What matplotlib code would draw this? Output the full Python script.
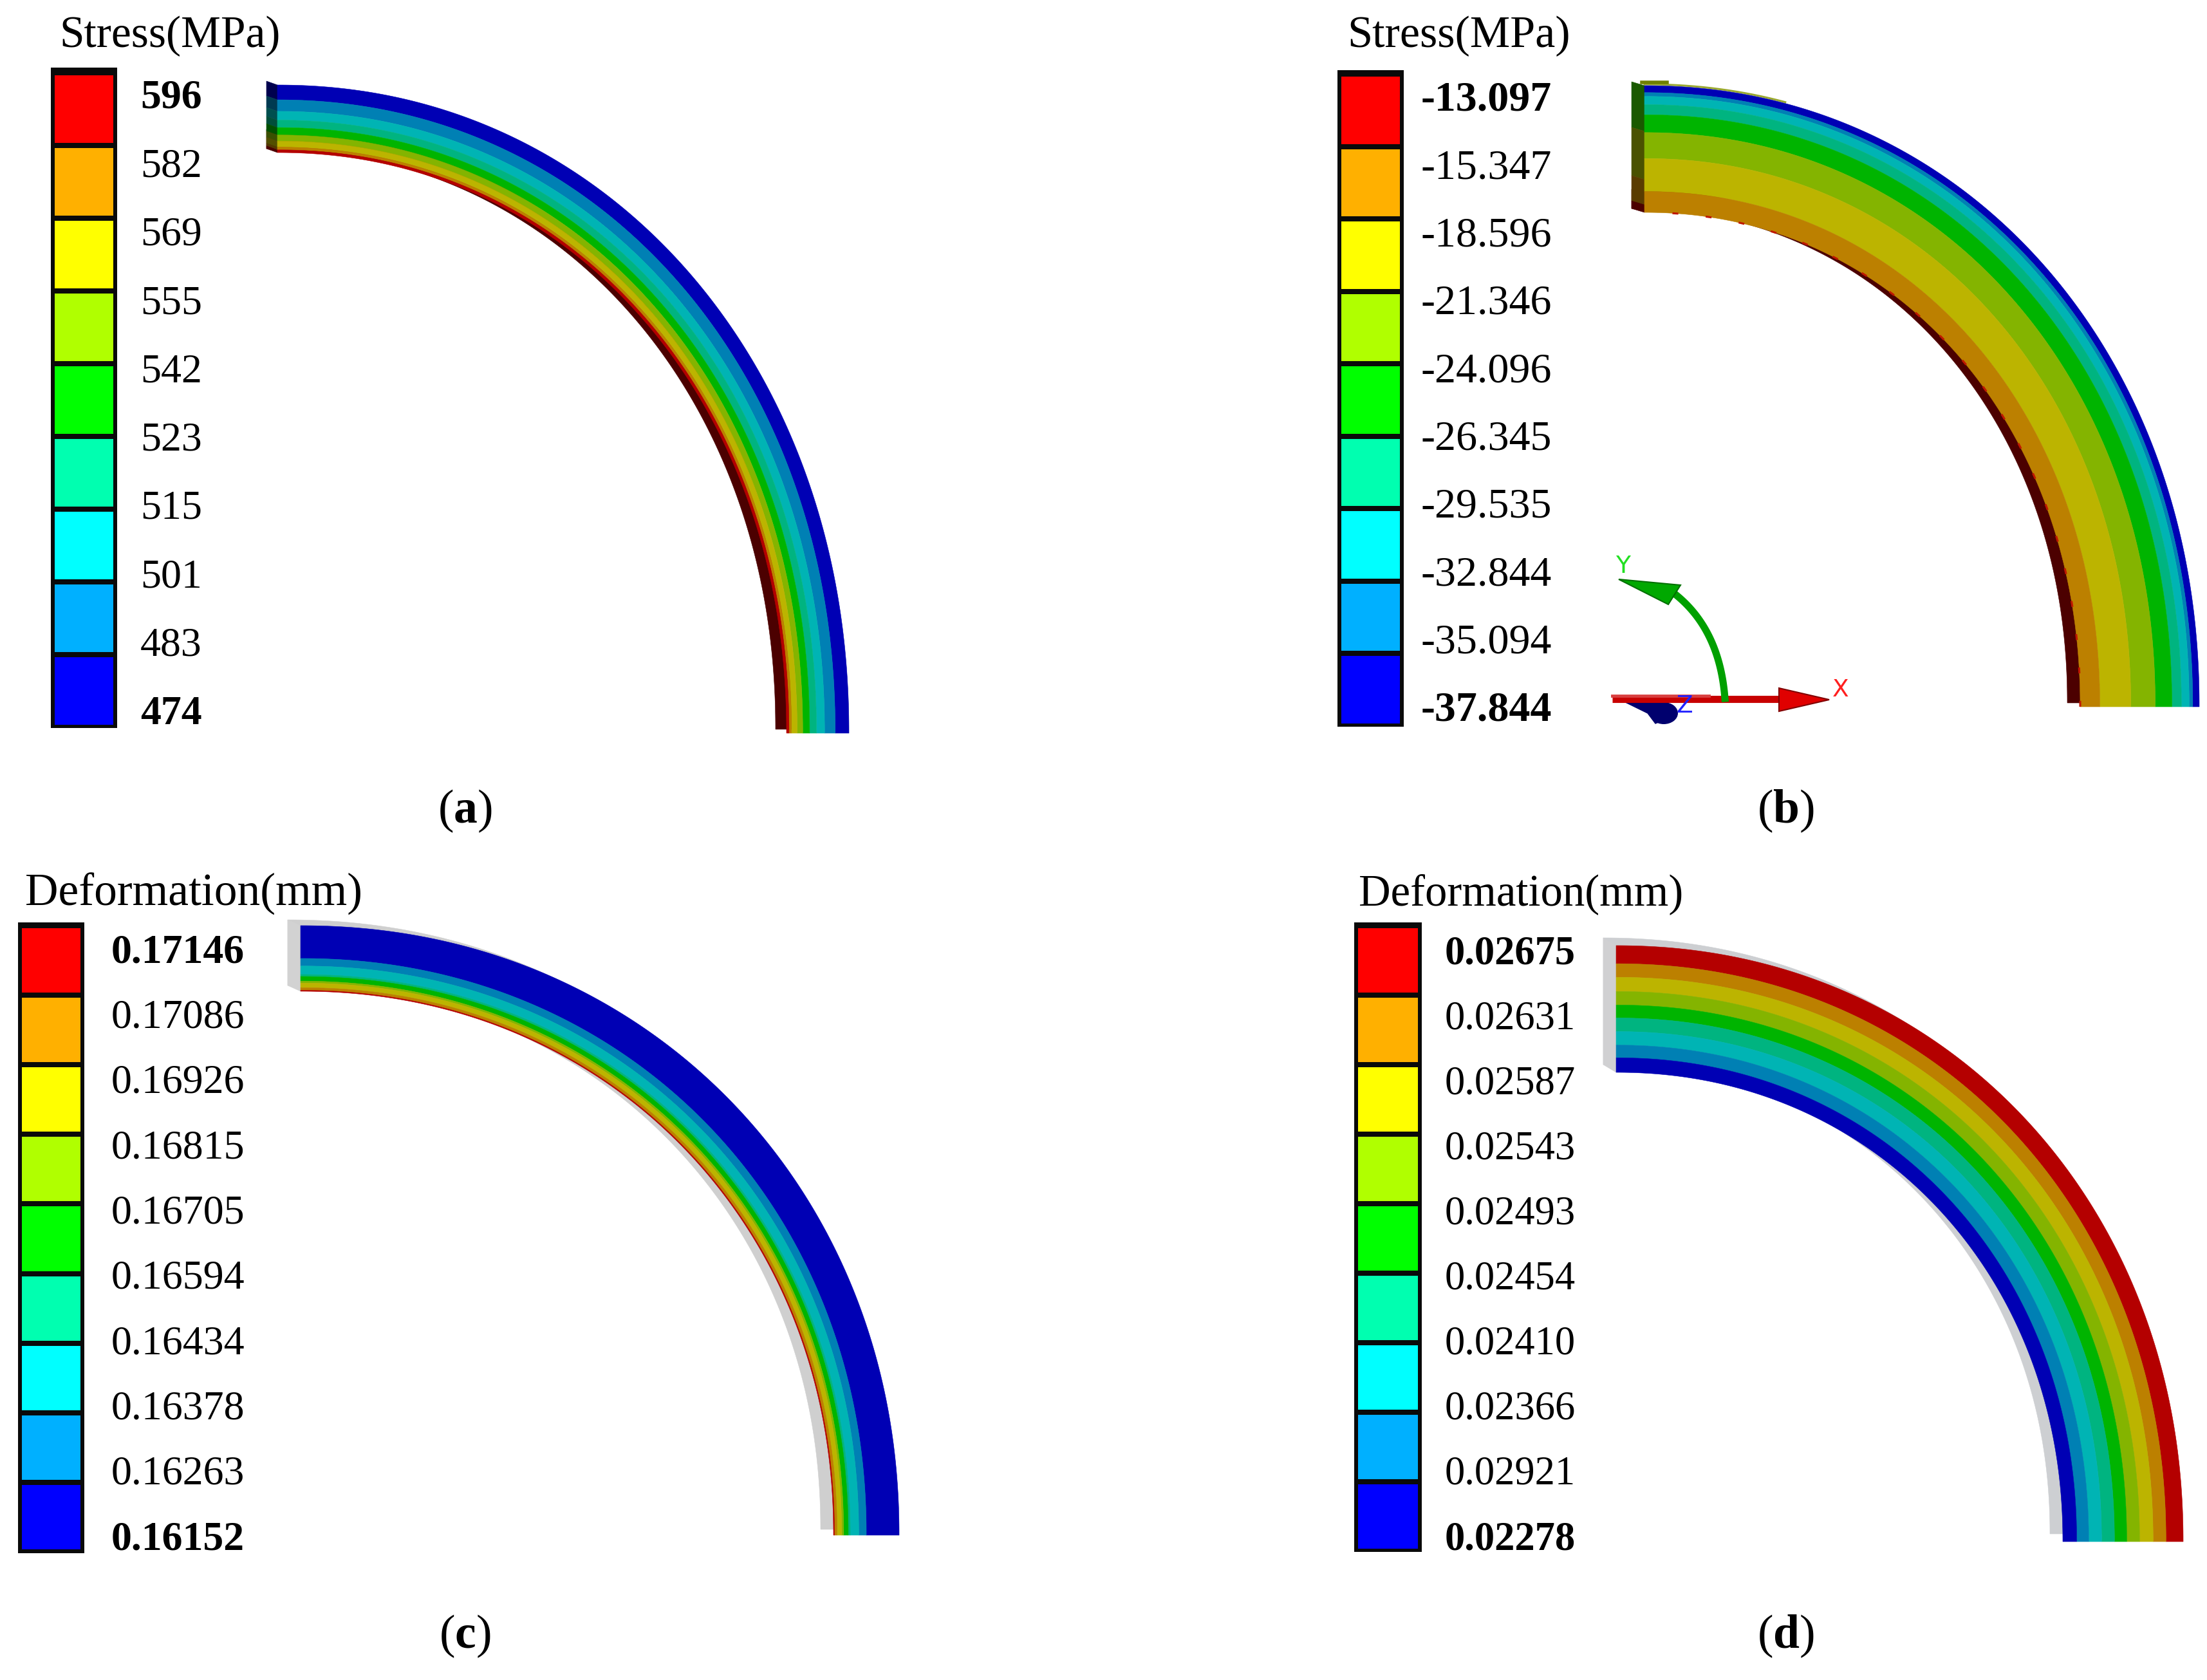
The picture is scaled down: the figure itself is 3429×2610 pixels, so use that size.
import numpy as np
import matplotlib
matplotlib.use("Agg")
import matplotlib.pyplot as plt
from matplotlib.patches import Rectangle, Polygon, Ellipse

plt.rcParams['font.family'] = ['Liberation Serif', 'DejaVu Serif']
plt.rcParams['mathtext.fontset'] = 'custom'
plt.rcParams['mathtext.rm'] = 'Liberation Serif'
plt.rcParams['mathtext.bf'] = 'Liberation Serif:bold'

# ---------- data ----------
labels_a = ["596", "582", "569", "555", "542", "523", "515", "501", "483", "474"]
labels_b = ["-13.097", "-15.347", "-18.596", "-21.346", "-24.096", "-26.345", "-29.535", "-32.844", "-35.094", "-37.844"]
labels_c = ["0.17146", "0.17086", "0.16926", "0.16815", "0.16705", "0.16594", "0.16434", "0.16378", "0.16263", "0.16152"]
labels_d = ["0.02675", "0.02631", "0.02587", "0.02543", "0.02493", "0.02454", "0.02410", "0.02366", "0.02921", "0.02278"]

# share of the wall thickness per contour band, outer edge to inner edge
bands_a = [.22, .17, .13, .11, .11, .09, .09, .04, .04]
bands_b = [.055, .03, .065, .08, .14, .205, .26, .165, 0.0]
bands_c = [.50, .115, .13, .03, .07, .03, .07, .04, .015]
bands_d = [.143, .107, .112, .107, .102, .107, .107, .10, .115]

legend_colors = ["#FF0000", "#FFB000", "#FFFF00", "#B0FF00", "#00FF00",
                 "#00FFB0", "#00FFFF", "#00B0FF", "#0000FF"]
band_colors = ["#0000B4", "#0080B4", "#00B4B4", "#00B480", "#00B400",
               "#84B400", "#BCB400", "#BC8000", "#B40000"]

# ---------- layout (pixels of the 3430x2610 canvas) ----------
W, H = 3430, 2610
fig = plt.figure(figsize=(W / 100, H / 100), dpi=100, facecolor='white')
ax = fig.add_axes([0, 0, 1, 1])
ax.set_xlim(0, W)
ax.set_ylim(H, 0)
ax.axis('off')

STRESS_FS = 50
DEFORM_FS = 51.5
EXPO = 2.07


def arc(cx, cy, rx, ry, t0=0.0, t1=90.0, n=200):
    t = np.radians(np.linspace(t0, t1, n))
    c = np.clip(np.cos(t), 0, 1) ** (2 / EXPO)
    s = np.clip(np.sin(t), 0, 1) ** (2 / EXPO)
    return cx + rx * c, cy - ry * s


def ring(cx, cy, rx1, ry1, rx2, ry2, color, z, t0=0.0, t1=90.0):
    x1, y1 = arc(cx, cy, rx1, ry1, t0, t1)
    x2, y2 = arc(cx, cy, rx2, ry2, t0, t1)
    pts = np.column_stack([np.r_[x1, x2[::-1]], np.r_[y1, y2[::-1]]])
    ax.add_patch(Polygon(pts, closed=True, fc=color, ec=color, lw=0.4, zorder=z))


def front(cx, cy, rxo, ryo, rxi, ryi, bands, colors):
    edges = np.r_[0, np.cumsum(bands)] / np.sum(bands)
    for i, col in enumerate(colors):
        if bands[i] <= 0:
            continue
        f0, f1 = edges[i], edges[i + 1]
        ring(cx, cy, rxo + (rxi - rxo) * f0, ryo + (ryi - ryo) * f0,
             rxo + (rxi - rxo) * f1, ryo + (ryi - ryo) * f1, col, 5)


def cap(cx, y0, y1, dx, dy, color):
    pts = [(cx, y0), (cx, y1), (cx + dx, y1 + dy), (cx + dx, y0 + dy)]
    ax.add_patch(Polygon(pts, closed=True, fc=color, ec=color, lw=0.4, zorder=3))


def legend(x0, x1, top, first, last, bottom, inset):
    ax.add_patch(Rectangle((x0, top), x1 - x0, bottom - top, fc='#0A0A0A', ec='none', zorder=2))
    gap = 8
    h = (last - first + gap) / 9
    for i, col in enumerate(legend_colors):
        ax.add_patch(Rectangle((x0 + inset, first + i * h), x1 - x0 - 2 * inset, h - gap,
                               fc=col, ec='none', zorder=3))


def ticks(labels, x, y_first, y_last, fs):
    ys = np.linspace(y_first, y_last, len(labels))
    for i, (s, y) in enumerate(zip(labels, ys)):
        ax.text(x, y, s, fontsize=fs, va='center_baseline', ha='left',
                fontweight='bold' if i in (0, len(labels) - 1) else 'normal',
                color='black', zorder=6)


# ---------- panel a ----------
legend(79, 182, 105, 117, 1126, 1131, 6)
ticks(labels_a, 218, 146, 1103, 46)
ax.text(92, 56, "Stress(MPa)", fontsize=STRESS_FS, va='center', ha='left')
cx, cy, rxo, ryo, rxi, ryi = 431, 1139, 888, 1007, 791, 902
dx, dy = -17, -6
ring(cx + dx, cy + dy, rxi, ryi, rxi + 30, ryi + 30, "#4C0000", 2)
front(cx, cy, rxo, ryo, rxi, ryi, bands_a, band_colors)
cap_a = ["#00004E", "#003A52", "#004F4F", "#004F3A", "#005000", "#3A5000", "#524F00", "#523800", "#4C0000"]
e = np.r_[0, np.cumsum(bands_a)] / np.sum(bands_a)
for i, c in enumerate(cap_a):
    cap(cx, cy - (ryo + (ryi - ryo) * e[i]), cy - (ryo + (ryi - ryo) * e[i + 1]), dx, dy, c)

# ---------- panel b ----------
legend(2078, 2181, 109, 119, 1124, 1129, 6)
ticks(labels_b, 2208, 149, 1097, 47.5)
ax.text(2093, 56, "Stress(MPa)", fontsize=STRESS_FS + 0.5, va='center', ha='left')
cx, cy, rxo, ryo, rxi, ryi = 2555, 1098, 862, 965, 677, 768
dx, dy = -20, -6
ring(cx + dx, cy + dy, rxi, ryi, rxi + 30, ryi + 30, "#4C0000", 2)
xo, yo = arc(cx, cy - 2, rxo, ryo, 76, 90)
ax.plot(xo, yo, color="#9AA830", lw=2.2, zorder=2)
ax.plot([cx - 4, cx + 35], [cy - ryo - 5, cy - ryo - 5], color="#708000", lw=4, zorder=2)
front(cx, cy, rxo, ryo, rxi, ryi, bands_b, band_colors)
xi, yi = arc(cx, cy, rxi, ryi, 0, 88)
ax.plot(xi, yi, color="#C01800", lw=2.2, ls=(0, (3, 14)), zorder=6)
cap_steps = [(0.0, .36, "#1A5A00"), (.36, .74, "#4A5200"), (.74, .94, "#5A3C00"), (.94, 1.0, "#4C0000")]
for f0, f1, c in cap_steps:
    cap(cx, cy - (ryo + (ryi - ryo) * f0), cy - (ryo + (ryi - ryo) * f1), dx, dy, c)

# coordinate triad of panel b
ax.plot([2505, 2770], [1086, 1086], color="#C80000", lw=8, solid_capstyle='butt', zorder=4)
ax.plot([2505, 2655], [1081, 1081], color="#D84040", lw=3.5, zorder=4)
ax.add_patch(Polygon([(2764, 1069), (2842, 1087), (2764, 1105)], closed=True, fc="#E00000", ec="#800000", lw=1.5, zorder=5))
ax.add_patch(Polygon([(2505, 1081), (2585, 1092), (2600, 1112), (2572, 1124), (2560, 1108)],
                     closed=True, fc="#00006E", ec="#00006E", zorder=3))
ax.add_patch(Ellipse((2585, 1108), 44, 34, fc="#00006E", ec="none", zorder=3))
t = np.linspace(0, 1, 60)
gx = (1 - t) ** 2 * 2680 + 2 * (1 - t) * t * 2672 + t ** 2 * 2605
gy = (1 - t) ** 2 * 1085 + 2 * (1 - t) * t * 980 + t ** 2 * 925
ax.plot(gx, gy, color="#00A000", lw=8, zorder=4)
ax.add_patch(Polygon([(2515, 900), (2611, 909), (2592, 939)], closed=True, fc="#00A800", ec="#007000", lw=1.5, zorder=5))
ax.text(2522, 880, "Y", color="#22E022", fontsize=27, ha='center', va='center', family='DejaVu Sans', zorder=6)
ax.text(2860, 1072, "X", color="#FF2020", fontsize=27, ha='center', va='center', family='DejaVu Sans', zorder=6)
ax.text(2617, 1097, "Z", color="#2020FF", fontsize=27, ha='center', va='center', family='DejaVu Sans', zorder=6)

# ---------- panel c ----------
legend(28, 131, 1433, 1442, 2407, 2413, 6)
ticks(labels_c, 173, 1473, 2385, 46)
ax.text(39, 1389, "Deformation(mm)", fontsize=DEFORM_FS, va='center', ha='left')
cx, cy, rxo, ryo, rxi, ryi = 467, 2385, 930, 947, 828, 845
dx, dy = -20, -9
ring(cx + dx, cy + dy, rxo, ryo, rxi, ryi, "#CFCFCF", 2)
cap(cx, cy - ryo, cy - ryi, dx, dy, "#D2D2D2")
front(cx, cy, rxo, ryo, rxi, ryi, bands_c, band_colors)

# ---------- panel d ----------
legend(2104, 2209, 1433, 1442, 2406, 2411, 6)
ticks(labels_d, 2245, 1475, 2385, 45)
ax.text(2111, 1389, "Deformation(mm)", fontsize=49.5, va='center', ha='left')
cx, cy, rxo, ryo, rxi, ryi = 2511, 2395, 881, 926, 694, 729
dx, dy = -20, -12
ring(cx + dx, cy + dy, rxo, ryo, rxi, ryi, "#CDCFD2", 2)
cap(cx, cy - ryo, cy - ryi, dx, dy, "#D0D0D2")
front(cx, cy, rxo, ryo, rxi, ryi, bands_d, band_colors[::-1])

# ---------- captions ----------
for s, x, y in [("a", 722, 1260), ("b", 2774, 1260), ("c", 722, 2542), ("d", 2774, 2542)]:
    ax.text(x, y, r"($\mathbf{%s}$)" % s, fontsize=53, ha='center', va='center')

fig.savefig("out.png", dpi=100, facecolor='white')
